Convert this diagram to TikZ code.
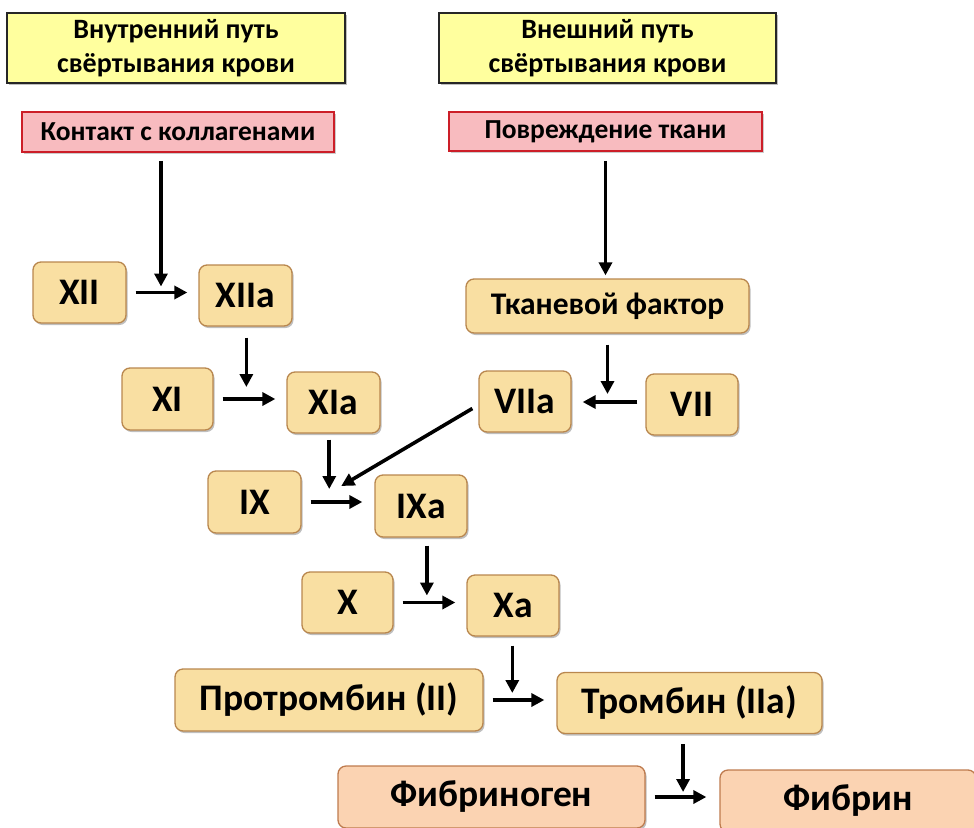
\documentclass[tikz,border=0pt]{standalone}
\usepackage{fontspec}
\setmainfont{Carlito}
\usetikzlibrary{arrows.meta,shadows,calc}
\definecolor{tanfill}{HTML}{F9DFA2}
\definecolor{tanline}{HTML}{B9874E}
\definecolor{peachfill}{HTML}{FBD3B2}
\definecolor{peachline}{HTML}{BE7B4E}
\definecolor{titlefill}{HTML}{FFFF9E}
\definecolor{pinkfill}{HTML}{F8BBBF}
\definecolor{pinkline}{HTML}{CC1E28}
\tikzset{
  factor/.style={draw=tanline, fill=tanfill, line width=1.3pt, rounded corners=8pt,
    inner sep=0pt, font=\bfseries\fontsize{37.5}{40}\selectfont,
    drop shadow={shadow xshift=1.5pt, shadow yshift=-2pt, opacity=0.25, fill=black}},
  fibr/.style={factor, draw=peachline, fill=peachfill},
  titlebox/.style={draw=black!85, fill=titlefill, line width=2pt, inner sep=0pt,
    align=center, font=\bfseries\fontsize{28}{33.5}\selectfont,
    drop shadow={shadow xshift=1.5pt, shadow yshift=-1.5pt, opacity=0.25, fill=black}},
  trigger/.style={draw=pinkline, fill=pinkfill, line width=1.5pt, inner sep=0pt,
    font=\bfseries\fontsize{27.5}{30}\selectfont,
    drop shadow={shadow xshift=1.5pt, shadow yshift=-1.5pt, opacity=0.2, fill=black}},
  arr/.style={line width=3.6pt, -{Triangle[length=13pt,width=13pt]}}
}
\begin{document}
\begin{tikzpicture}[x=1pt,y=-1pt]
\useasboundingbox (0,0) rectangle (974,827);
% titles
\node[titlebox, minimum width=338pt, minimum height=70pt] (t1) at (176,48) {Внутренний путь\\свёртывания крови};
\node[titlebox, minimum width=337pt, minimum height=70pt] (t2) at (607.5,48) {Внешний путь\\свёртывания крови};
\node[trigger, minimum width=312pt, minimum height=40pt] (c1) at (178,132) {Контакт с коллагенами};
\node[trigger, minimum width=313pt, minimum height=39pt] (c2) at (605.5,131.5) {Повреждение ткани};
% factors
\node[factor, minimum width=93pt, minimum height=61pt] (XII) at (79.5,292.5) {XII};
\node[factor, minimum width=93pt, minimum height=61pt] (XIIa) at (245.5,295.5) {XIIa};
\node[factor, minimum width=91pt, minimum height=62pt] (XI) at (167.5,399) {XI};
\node[factor, minimum width=93pt, minimum height=61pt] (XIa) at (333.5,402.5) {XIa};
\node[factor, minimum width=283pt, minimum height=54pt, font=\bfseries\fontsize{31.5}{34}\selectfont] (TF) at (607.5,306) {Тканевой фактор};
\node[factor, minimum width=92pt, minimum height=61pt] (VIIa) at (525,401.5) {VIIa};
\node[factor, minimum width=92pt, minimum height=61pt] (VII) at (692,404.5) {VII};
\node[factor, minimum width=93pt, minimum height=62pt] (IX) at (254.5,502) {IX};
\node[factor, minimum width=92pt, minimum height=62pt] (IXa) at (421,506) {IXa};
\node[factor, minimum width=91pt, minimum height=61pt] (X) at (347.5,602.5) {X};
\node[factor, minimum width=92pt, minimum height=61pt] (Xa) at (513,605.5) {Xa};
\node[factor, minimum width=308pt, minimum height=62pt] (PT) at (329,700) {Протромбин (II)};
\node[factor, minimum width=265pt, minimum height=61pt] (T) at (689.5,703) {Тромбин (IIa)};
\node[fibr, minimum width=307pt, minimum height=62pt] (FG) at (491.5,797) {Фибриноген};
\node[fibr, minimum width=256pt, minimum height=62pt] (F) at (848,801) {Фибрин};
% horizontal conversion arrows
\draw[arr] ([xshift=9pt]XII.east) -- ([xshift=-11pt]XIIa.west |- XII.east) coordinate[pos=0.49] (m1);
\draw[arr] ([xshift=9pt]XI.east) -- ([xshift=-11pt]XIa.west |- XI.east) coordinate[pos=0.45] (m2);
\draw[arr] ([xshift=9pt]IX.east) -- ([xshift=-12pt]IXa.west |- IX.east) coordinate[pos=0.36] (m3);
\draw[arr] ([xshift=9pt]X.east) -- ([xshift=-11pt]Xa.west |- X.east) coordinate[pos=0.46] (m4);
\draw[arr] ([xshift=9pt]PT.east) -- ([xshift=-12pt]T.west |- PT.east) coordinate[pos=0.38] (m5);
\draw[arr] ([xshift=9pt]FG.east) -- ([xshift=-13pt]F.west |- FG.east) coordinate[pos=0.55] (m6);
\draw[arr] ([xshift=-8pt]VII.west |- 0,402) -- ([xshift=11pt]VIIa.east |- 0,402) coordinate[pos=0.5] (m7);
% vertical activation arrows
\draw[arr] ([yshift=-8pt]c1.south -| m1) -- ([yshift=6pt]m1);
\draw[arr] ([yshift=-11pt]XIIa.south -| m2) -- ([yshift=12pt]m2);
\draw[arr] ([yshift=-6pt]XIa.south -| m3) -- ([yshift=13pt]m3);
\draw[arr] ([yshift=-8pt]IXa.south -| m4) -- ([yshift=7pt]m4);
\draw[arr] ([yshift=-9pt]Xa.south -| m5) -- ([yshift=7pt]m5);
\draw[arr] ([yshift=-10pt]T.south -| m6) -- ([yshift=5pt]m6);
\draw[arr] ([yshift=-9pt]c2.south) -- ([yshift=3pt]TF.north -| c2.south);
\draw[arr] ([yshift=-11pt]TF.south) -- ([yshift=8pt]m7 -| TF.south);
% extrinsic link
\draw[arr] ([xshift=-6pt,yshift=-7pt]VIIa.west) -- ([xshift=12pt,yshift=16pt]m3);
\end{tikzpicture}
\end{document}
